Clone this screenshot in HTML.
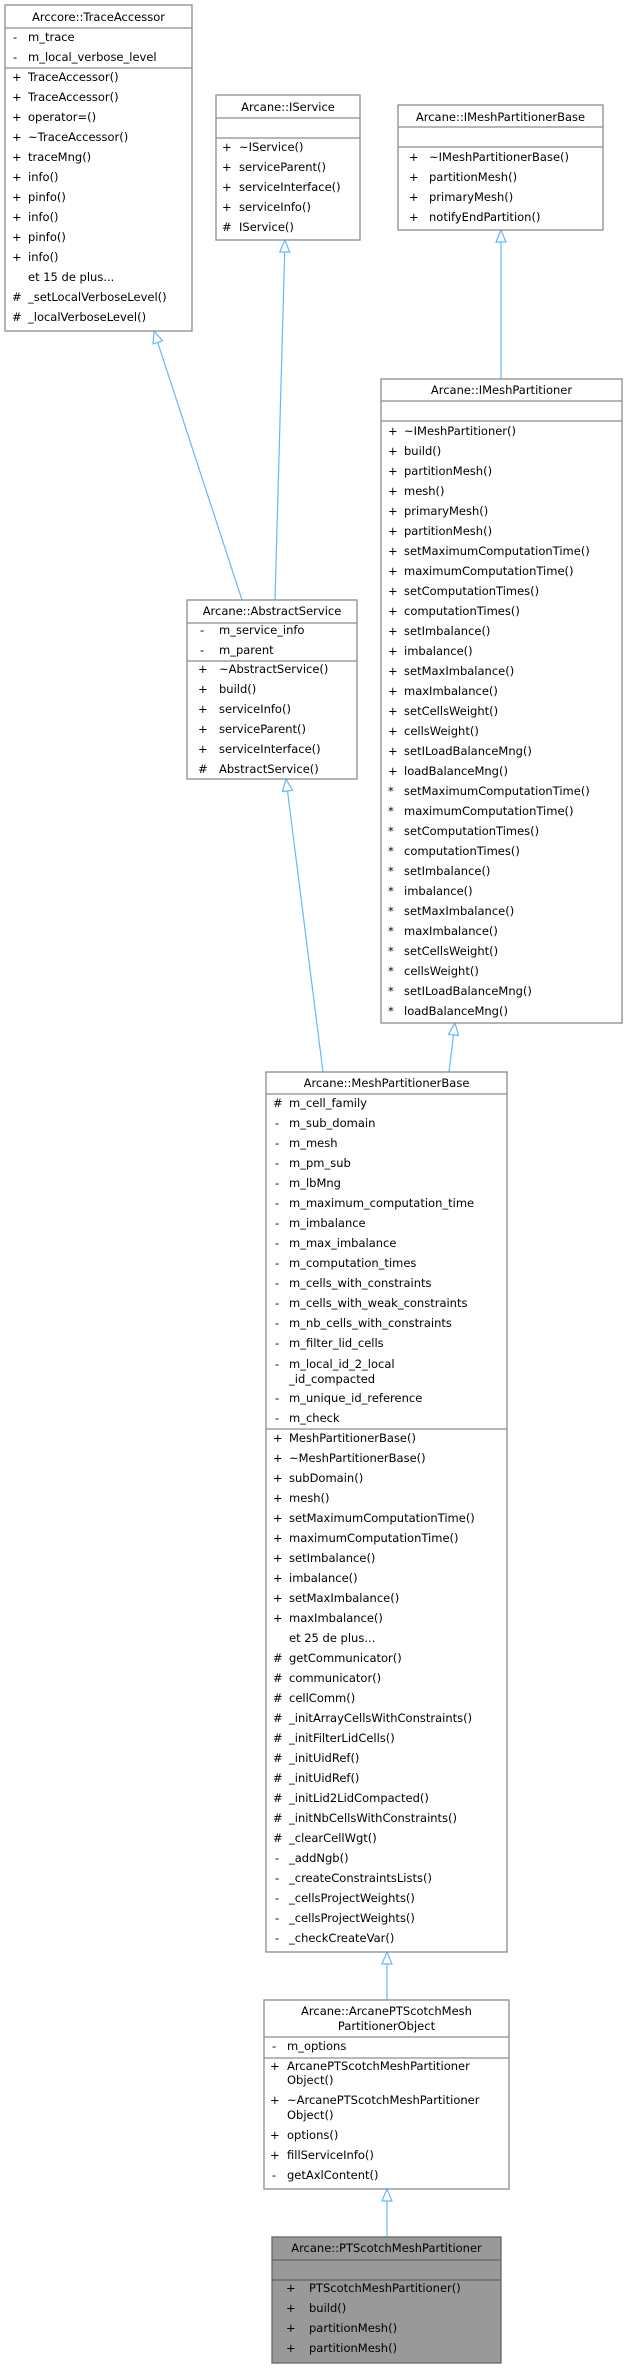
<!DOCTYPE html>
<html><head><meta charset="utf-8"><style>
html,body{margin:0;padding:0;background:#fff;}
svg{display:block;}
text{font-family:"DejaVu Sans","Liberation Sans",sans-serif;font-size:11.5px;fill:#000;}
.t{text-anchor:middle;}
rect{fill:#fff;stroke:#8c8c8c;stroke-width:1.3;}
line.s{stroke:#8c8c8c;stroke-width:1.3;}
.e{stroke:#63b8ff;stroke-width:1.2;fill:none;}
.a{stroke:#63b8ff;stroke-width:1.2;fill:#fff;}
</style></head><body>
<svg width="627" height="2368" viewBox="0 0 627 2368" xmlns="http://www.w3.org/2000/svg">
<!-- edges -->
<line class="e" x1="242" y1="600" x2="157.7" y2="342.4"/>
<polygon class="a" points="154,331 152.97,343.95 162.45,340.85"/>
<line class="e" x1="275" y1="600" x2="284.7" y2="252"/>
<polygon class="a" points="285,240 279.7,251.9 289.7,252.1"/>
<line class="e" x1="501" y1="379" x2="501" y2="242"/>
<polygon class="a" points="501,230 496,242 506,242"/>
<line class="e" x1="323" y1="1072" x2="287.5" y2="790.9"/>
<polygon class="a" points="286,779 282.5,791.5 292.5,790.3"/>
<line class="e" x1="449" y1="1072" x2="453.5" y2="1034.9"/>
<polygon class="a" points="455,1023 458.5,1035.5 448.5,1034.3"/>
<line class="e" x1="387" y1="2000" x2="387" y2="1964"/>
<polygon class="a" points="387,1952 382,1964 392,1964"/>
<line class="e" x1="387" y1="2237" x2="387" y2="2201"/>
<polygon class="a" points="387,2189 382,2201 392,2201"/>

<!-- TraceAccessor -->
<rect x="5" y="5" width="187" height="326"/>
<text class="t" x="98.5" y="21">Arccore::TraceAccessor</text>
<line class="s" x1="5" y1="28" x2="192" y2="28"/>
<text x="13" y="41">-</text><text x="28" y="41">m_trace</text>
<text x="13" y="61">-</text><text x="28" y="61">m_local_verbose_level</text>
<line class="s" x1="5" y1="68" x2="192" y2="68"/>
<text x="12" y="81">+</text><text x="28" y="81">TraceAccessor()</text>
<text x="12" y="101">+</text><text x="28" y="101">TraceAccessor()</text>
<text x="12" y="121">+</text><text x="28" y="121">operator=()</text>
<text x="12" y="141">+</text><text x="28" y="141">~TraceAccessor()</text>
<text x="12" y="161">+</text><text x="28" y="161">traceMng()</text>
<text x="12" y="181">+</text><text x="28" y="181">info()</text>
<text x="12" y="201">+</text><text x="28" y="201">pinfo()</text>
<text x="12" y="221">+</text><text x="28" y="221">info()</text>
<text x="12" y="241">+</text><text x="28" y="241">pinfo()</text>
<text x="12" y="261">+</text><text x="28" y="261">info()</text>
<text x="28" y="281">et 15 de plus...</text>
<text x="12" y="301">#</text><text x="28" y="301">_setLocalVerboseLevel()</text>
<text x="12" y="321">#</text><text x="28" y="321">_localVerboseLevel()</text>

<!-- IService -->
<rect x="216" y="95" width="144" height="145"/>
<text class="t" x="288" y="111">Arcane::IService</text>
<line class="s" x1="216" y1="118" x2="360" y2="118"/>
<line class="s" x1="216" y1="138" x2="360" y2="138"/>
<text x="222" y="151">+</text><text x="239" y="151">~IService()</text>
<text x="222" y="171">+</text><text x="239" y="171">serviceParent()</text>
<text x="222" y="191">+</text><text x="239" y="191">serviceInterface()</text>
<text x="222" y="211">+</text><text x="239" y="211">serviceInfo()</text>
<text x="222" y="231">#</text><text x="239" y="231">IService()</text>

<!-- IMeshPartitionerBase -->
<rect x="398" y="105" width="205" height="125"/>
<text class="t" x="500.5" y="121">Arcane::IMeshPartitionerBase</text>
<line class="s" x1="398" y1="127" x2="603" y2="127"/>
<line class="s" x1="398" y1="147" x2="603" y2="147"/>
<text x="409" y="161">+</text><text x="429" y="161">~IMeshPartitionerBase()</text>
<text x="409" y="181">+</text><text x="429" y="181">partitionMesh()</text>
<text x="409" y="201">+</text><text x="429" y="201">primaryMesh()</text>
<text x="409" y="221">+</text><text x="429" y="221">notifyEndPartition()</text>

<!-- IMeshPartitioner -->
<rect x="381" y="379" width="241" height="644"/>
<text class="t" x="501.5" y="394">Arcane::IMeshPartitioner</text>
<line class="s" x1="381" y1="401" x2="622" y2="401"/>
<line class="s" x1="381" y1="421" x2="622" y2="421"/>
<text x="388" y="435">+</text><text x="404" y="435">~IMeshPartitioner()</text>
<text x="388" y="455">+</text><text x="404" y="455">build()</text>
<text x="388" y="475">+</text><text x="404" y="475">partitionMesh()</text>
<text x="388" y="495">+</text><text x="404" y="495">mesh()</text>
<text x="388" y="515">+</text><text x="404" y="515">primaryMesh()</text>
<text x="388" y="535">+</text><text x="404" y="535">partitionMesh()</text>
<text x="388" y="555">+</text><text x="404" y="555">setMaximumComputationTime()</text>
<text x="388" y="575">+</text><text x="404" y="575">maximumComputationTime()</text>
<text x="388" y="595">+</text><text x="404" y="595">setComputationTimes()</text>
<text x="388" y="615">+</text><text x="404" y="615">computationTimes()</text>
<text x="388" y="635">+</text><text x="404" y="635">setImbalance()</text>
<text x="388" y="655">+</text><text x="404" y="655">imbalance()</text>
<text x="388" y="675">+</text><text x="404" y="675">setMaxImbalance()</text>
<text x="388" y="695">+</text><text x="404" y="695">maxImbalance()</text>
<text x="388" y="715">+</text><text x="404" y="715">setCellsWeight()</text>
<text x="388" y="735">+</text><text x="404" y="735">cellsWeight()</text>
<text x="388" y="755">+</text><text x="404" y="755">setILoadBalanceMng()</text>
<text x="388" y="775">+</text><text x="404" y="775">loadBalanceMng()</text>
<text x="388" y="795">*</text><text x="404" y="795">setMaximumComputationTime()</text>
<text x="388" y="815">*</text><text x="404" y="815">maximumComputationTime()</text>
<text x="388" y="835">*</text><text x="404" y="835">setComputationTimes()</text>
<text x="388" y="855">*</text><text x="404" y="855">computationTimes()</text>
<text x="388" y="875">*</text><text x="404" y="875">setImbalance()</text>
<text x="388" y="895">*</text><text x="404" y="895">imbalance()</text>
<text x="388" y="915">*</text><text x="404" y="915">setMaxImbalance()</text>
<text x="388" y="935">*</text><text x="404" y="935">maxImbalance()</text>
<text x="388" y="955">*</text><text x="404" y="955">setCellsWeight()</text>
<text x="388" y="975">*</text><text x="404" y="975">cellsWeight()</text>
<text x="388" y="995">*</text><text x="404" y="995">setILoadBalanceMng()</text>
<text x="388" y="1015">*</text><text x="404" y="1015">loadBalanceMng()</text>

<!-- AbstractService -->
<rect x="187" y="600" width="170" height="179"/>
<text class="t" x="272" y="615">Arcane::AbstractService</text>
<line class="s" x1="187" y1="623" x2="357" y2="623"/>
<text x="200" y="634">-</text><text x="219" y="634">m_service_info</text>
<text x="200" y="654">-</text><text x="219" y="654">m_parent</text>
<line class="s" x1="187" y1="661" x2="357" y2="661"/>
<text x="198" y="673">+</text><text x="219" y="673">~AbstractService()</text>
<text x="198" y="693">+</text><text x="219" y="693">build()</text>
<text x="198" y="713">+</text><text x="219" y="713">serviceInfo()</text>
<text x="198" y="733">+</text><text x="219" y="733">serviceParent()</text>
<text x="198" y="753">+</text><text x="219" y="753">serviceInterface()</text>
<text x="198" y="773">#</text><text x="219" y="773">AbstractService()</text>

<!-- MeshPartitionerBase -->
<rect x="266" y="1072" width="241" height="880"/>
<text class="t" x="386.5" y="1087">Arcane::MeshPartitionerBase</text>
<line class="s" x1="266" y1="1094" x2="507" y2="1094"/>
<text x="273" y="1107">#</text><text x="289" y="1107">m_cell_family</text>
<text x="275" y="1127">-</text><text x="289" y="1127">m_sub_domain</text>
<text x="275" y="1147">-</text><text x="289" y="1147">m_mesh</text>
<text x="275" y="1167">-</text><text x="289" y="1167">m_pm_sub</text>
<text x="275" y="1187">-</text><text x="289" y="1187">m_lbMng</text>
<text x="275" y="1207">-</text><text x="289" y="1207">m_maximum_computation_time</text>
<text x="275" y="1227">-</text><text x="289" y="1227">m_imbalance</text>
<text x="275" y="1247">-</text><text x="289" y="1247">m_max_imbalance</text>
<text x="275" y="1267">-</text><text x="289" y="1267">m_computation_times</text>
<text x="275" y="1287">-</text><text x="289" y="1287">m_cells_with_constraints</text>
<text x="275" y="1307">-</text><text x="289" y="1307">m_cells_with_weak_constraints</text>
<text x="275" y="1327">-</text><text x="289" y="1327">m_nb_cells_with_constraints</text>
<text x="275" y="1347">-</text><text x="289" y="1347">m_filter_lid_cells</text>
<text x="275" y="1368">-</text><text x="289" y="1368">m_local_id_2_local</text>
<text x="289" y="1383">_id_compacted</text>
<text x="275" y="1402">-</text><text x="289" y="1402">m_unique_id_reference</text>
<text x="275" y="1422">-</text><text x="289" y="1422">m_check</text>
<line class="s" x1="266" y1="1429" x2="507" y2="1429"/>
<text x="273" y="1442">+</text><text x="289" y="1442">MeshPartitionerBase()</text>
<text x="273" y="1462">+</text><text x="289" y="1462">~MeshPartitionerBase()</text>
<text x="273" y="1482">+</text><text x="289" y="1482">subDomain()</text>
<text x="273" y="1502">+</text><text x="289" y="1502">mesh()</text>
<text x="273" y="1522">+</text><text x="289" y="1522">setMaximumComputationTime()</text>
<text x="273" y="1542">+</text><text x="289" y="1542">maximumComputationTime()</text>
<text x="273" y="1562">+</text><text x="289" y="1562">setImbalance()</text>
<text x="273" y="1582">+</text><text x="289" y="1582">imbalance()</text>
<text x="273" y="1602">+</text><text x="289" y="1602">setMaxImbalance()</text>
<text x="273" y="1622">+</text><text x="289" y="1622">maxImbalance()</text>
<text x="289" y="1642">et 25 de plus...</text>
<text x="273" y="1662">#</text><text x="289" y="1662">getCommunicator()</text>
<text x="273" y="1682">#</text><text x="289" y="1682">communicator()</text>
<text x="273" y="1702">#</text><text x="289" y="1702">cellComm()</text>
<text x="273" y="1722">#</text><text x="289" y="1722">_initArrayCellsWithConstraints()</text>
<text x="273" y="1742">#</text><text x="289" y="1742">_initFilterLidCells()</text>
<text x="273" y="1762">#</text><text x="289" y="1762">_initUidRef()</text>
<text x="273" y="1782">#</text><text x="289" y="1782">_initUidRef()</text>
<text x="273" y="1802">#</text><text x="289" y="1802">_initLid2LidCompacted()</text>
<text x="273" y="1822">#</text><text x="289" y="1822">_initNbCellsWithConstraints()</text>
<text x="273" y="1842">#</text><text x="289" y="1842">_clearCellWgt()</text>
<text x="275" y="1862">-</text><text x="289" y="1862">_addNgb()</text>
<text x="275" y="1882">-</text><text x="289" y="1882">_createConstraintsLists()</text>
<text x="275" y="1902">-</text><text x="289" y="1902">_cellsProjectWeights()</text>
<text x="275" y="1922">-</text><text x="289" y="1922">_cellsProjectWeights()</text>
<text x="275" y="1942">-</text><text x="289" y="1942">_checkCreateVar()</text>

<!-- ArcanePTScotchMeshPartitionerObject -->
<rect x="264" y="2000" width="245" height="189"/>
<text class="t" x="386.5" y="2015">Arcane::ArcanePTScotchMesh</text>
<text class="t" x="386.5" y="2030">PartitionerObject</text>
<line class="s" x1="264" y1="2037" x2="509" y2="2037"/>
<text x="272" y="2050">-</text><text x="287" y="2050">m_options</text>
<line class="s" x1="264" y1="2058" x2="509" y2="2058"/>
<text x="270" y="2070">+</text><text x="287" y="2070">ArcanePTScotchMeshPartitioner</text>
<text x="287" y="2084">Object()</text>
<text x="270" y="2104">+</text><text x="287" y="2104">~ArcanePTScotchMeshPartitioner</text>
<text x="287" y="2119">Object()</text>
<text x="270" y="2139">+</text><text x="287" y="2139">options()</text>
<text x="270" y="2159">+</text><text x="287" y="2159">fillServiceInfo()</text>
<text x="272" y="2179">-</text><text x="287" y="2179">getAxlContent()</text>

<!-- PTScotchMeshPartitioner -->
<rect x="272" y="2237" width="229" height="126" style="fill:#999999;stroke:#666666"/>
<text class="t" x="386.5" y="2252">Arcane::PTScotchMeshPartitioner</text>
<line class="s" x1="272" y1="2260" x2="501" y2="2260" style="stroke:#666"/>
<line class="s" x1="272" y1="2280" x2="501" y2="2280" style="stroke:#666"/>
<text x="286" y="2292">+</text><text x="309" y="2292">PTScotchMeshPartitioner()</text>
<text x="286" y="2312">+</text><text x="309" y="2312">build()</text>
<text x="286" y="2332">+</text><text x="309" y="2332">partitionMesh()</text>
<text x="286" y="2352">+</text><text x="309" y="2352">partitionMesh()</text>
</svg>
</body></html>
